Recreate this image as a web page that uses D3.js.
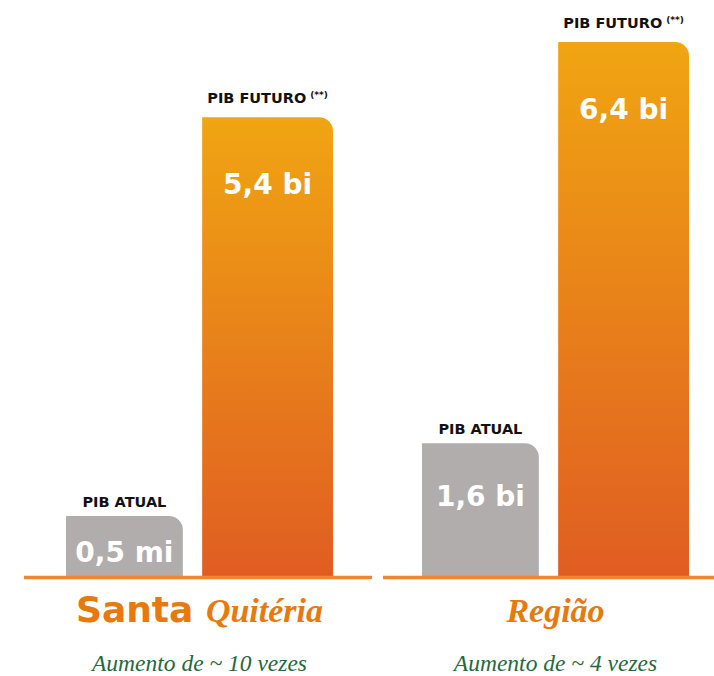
<!DOCTYPE html>
<html>
<head>
<meta charset="utf-8">
<script src="https://cdn.jsdelivr.net/npm/d3@7"></script>
<style>
  html, body { margin: 0; padding: 0; background: #fff; }
  .cap { font-family: "DejaVu Sans", sans-serif; font-weight: bold; fill: #111; }
  .val { font-family: "DejaVu Sans", sans-serif; font-weight: bold; fill: #fff; }
  .serif { font-family: "Liberation Serif", "Times New Roman", serif; font-style: italic; }
</style>
</head>
<body>
<div id="chart"></div>
<script>
// data
var groups = ['Santa Quitéria', 'Região'];
var series = ['atual', 'futuro'];
var seriesNames = ['PIB ATUAL', 'PIB FUTURO'];
// bar heights in "bi" as drawn (the 0,5 mi bar is drawn taller than scale)
var santaHeights = [0.73, 5.5];
var regiaoHeights = [1.6, 6.4];
var santaLabels = ['0,5 mi', '5,4 bi'];
var regiaoLabels = ['1,6 bi', '6,4 bi'];
var increaseTexts = ['Aumento de ~ 10 vezes', 'Aumento de ~ 4 vezes'];

var width = 714, height = 676;
var baseY = 577;

var rows = [];
groups.forEach(function(g, gi) {
    var h = gi === 0 ? santaHeights : regiaoHeights;
    var l = gi === 0 ? santaLabels : regiaoLabels;
    series.forEach(function(s, si) {
        rows.push({ group: g, key: s, name: seriesNames[si], value: h[si], label: l[si] });
    });
});

var svg = d3.select('#chart').append('svg')
    .attr('width', width)
    .attr('height', height);

var defs = svg.append('defs');
var grad = defs.append('linearGradient')
    .attr('id', 'orangeGrad')
    .attr('x1', 0).attr('y1', 0).attr('x2', 0).attr('y2', 1);
grad.append('stop').attr('offset', '0%').attr('stop-color', '#f0a512');
grad.append('stop').attr('offset', '100%').attr('stop-color', '#e05d22');

var x0 = d3.scaleBand().domain(groups).range([66, 689]).paddingInner(0.25);
var x1 = d3.scaleBand().domain(series).range([0, x0.bandwidth()]).paddingInner(0.135);
var y = d3.scaleLinear().domain([0, 6.4]).range([baseY, 42]);

// bar geometry: gray bars a bit narrower than the orange ones
function barX(d) {
    return x0(d.group) + x1(d.key) + (d.key === 'futuro' ? -7 : 0);
}
function barW(d) {
    return x1.bandwidth() + (d.key === 'futuro' ? 7 : -7);
}

// bar with only the top-right corner rounded
function barPath(d) {
    var x = barX(d), w = barW(d), top = y(d.value), r = 14;
    return 'M' + x + ',' + baseY +
        'V' + top +
        'H' + (x + w - r) +
        'A' + r + ',' + r + ' 0 0 1 ' + (x + w) + ',' + (top + r) +
        'V' + baseY + 'Z';
}

svg.selectAll('path.bar')
    .data(rows)
    .enter().append('path')
    .attr('class', 'bar')
    .attr('d', barPath)
    .attr('fill', function(d) { return d.key === 'futuro' ? 'url(#orangeGrad)' : '#b0adac'; });

// value labels inside bars
svg.selectAll('text.val')
    .data(rows)
    .enter().append('text')
    .attr('class', 'val')
    .attr('x', function(d) { return barX(d) + barW(d) / 2; })
    .attr('y', function(d) {
        var top = y(d.value);
        return top + Math.min(baseY - top - 15, d.key === 'futuro' ? 77 : 63);
    })
    .attr('text-anchor', 'middle')
    .attr('font-size', 28)
    .text(function(d) { return d.label; });

// series captions above bars
var caps = svg.selectAll('text.cap')
    .data(rows)
    .enter().append('text')
    .attr('class', 'cap')
    .attr('x', function(d) { return barX(d) + barW(d) / 2; })
    .attr('y', function(d) { return y(d.value) - (d.key === 'futuro' ? 14 : 9); })
    .attr('text-anchor', 'middle')
    .attr('font-size', 14.5);
caps.append('tspan').text(function(d) { return d.name; });
caps.filter(function(d) { return d.key === 'futuro'; })
    .append('tspan')
    .attr('font-size', 9)
    .attr('dx', 4)
    .attr('dy', -5)
    .text('(**)');

// baseline segments
svg.selectAll('line.base')
    .data([[24, 372], [383, 714]])
    .enter().append('line')
    .attr('class', 'base')
    .attr('x1', function(d) { return d[0]; })
    .attr('x2', function(d) { return d[1]; })
    .attr('y1', baseY + 0.5)
    .attr('y2', baseY + 0.5)
    .attr('stroke', '#f08632')
    .attr('stroke-width', 3.5);

// group titles
var cx = function(g) { return x0(g) + x0.bandwidth() / 2; };

var t1 = svg.append('text')
    .attr('x', cx(groups[0]))
    .attr('y', 622)
    .attr('text-anchor', 'middle')
    .attr('fill', '#e8790d');
t1.append('tspan')
    .attr('font-family', '"DejaVu Sans", sans-serif')
    .attr('font-weight', 'bold')
    .attr('font-size', 36)
    .text('Santa ');
t1.append('tspan')
    .attr('class', 'serif')
    .attr('font-weight', 'bold')
    .attr('font-size', 34)
    .text('Quitéria');

svg.append('text')
    .attr('class', 'serif')
    .attr('x', cx(groups[1]))
    .attr('y', 622)
    .attr('text-anchor', 'middle')
    .attr('fill', '#e8790d')
    .attr('font-weight', 'bold')
    .attr('font-size', 34)
    .text('Região');

svg.selectAll('text.inc')
    .data(increaseTexts)
    .enter().append('text')
    .attr('class', 'inc serif')
    .attr('x', function(d, i) { return cx(groups[i]); })
    .attr('y', 671)
    .attr('text-anchor', 'middle')
    .attr('fill', '#23693a')
    .attr('font-size', 23.5)
    .text(function(d) { return d; });
</script>
</body>
</html>
